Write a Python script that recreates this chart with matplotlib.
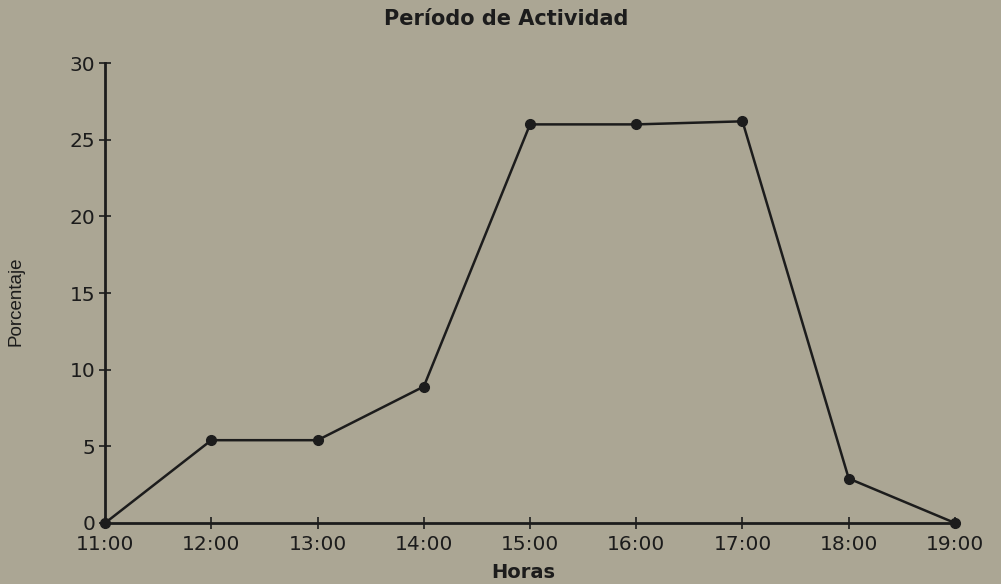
import matplotlib
matplotlib.use("Agg")
import matplotlib.pyplot as plt

horas = ["11:00", "12:00", "13:00", "14:00", "15:00", "16:00", "17:00", "18:00", "19:00"]
porcentaje = [0, 5.4, 5.4, 8.9, 26.0, 26.0, 26.2, 2.9, 0]
yticks = [0, 5, 10, 15, 20, 25, 30]

plt.rcParams['font.family'] = ['DejaVu Sans']
bg = "#aba694"
ink = "#1c1c1c"
fig = plt.figure(figsize=(10.01, 5.84), dpi=100, facecolor=bg)
ax = fig.add_axes([0.105, 0.1045, 0.849, 0.7875], facecolor=bg)

x = list(range(len(horas)))
ax.plot(x, porcentaje, color=ink, lw=1.8, marker="o", ms=7, mfc=ink, mec=ink, clip_on=False)

ax.set_xlim(0, len(horas) - 1)
ax.set_ylim(0, 30)
ax.set_xticks(x)
ax.set_xticklabels(horas, fontsize=14.5, color=ink)
ax.set_yticks(yticks)
ax.set_yticklabels([str(v) for v in yticks], fontsize=14.5, color=ink)
ax.tick_params(axis="x", direction="inout", length=8, width=1.2, colors=ink, pad=5)
ax.tick_params(axis="y", direction="inout", length=8, width=1.2, colors=ink, pad=3)
for s in ["top", "right"]:
    ax.spines[s].set_visible(False)
for s in ["left", "bottom"]:
    ax.spines[s].set_linewidth(2)
    ax.spines[s].set_color(ink)

fig.text(0.5225, 0.020, "Horas", ha="center", va="center",
         fontsize=14, fontweight="bold", color=ink)
fig.text(0.016, 0.485, "Porcentaje", ha="center", va="center", rotation=90,
         fontsize=13.5, color=ink, family="Liberation Sans")
fig.text(0.5055, 0.968, "Período de Actividad", ha="center", va="center",
         fontsize=15, fontweight="bold", color=ink)

fig.savefig("out.png", dpi=100, facecolor=bg)
